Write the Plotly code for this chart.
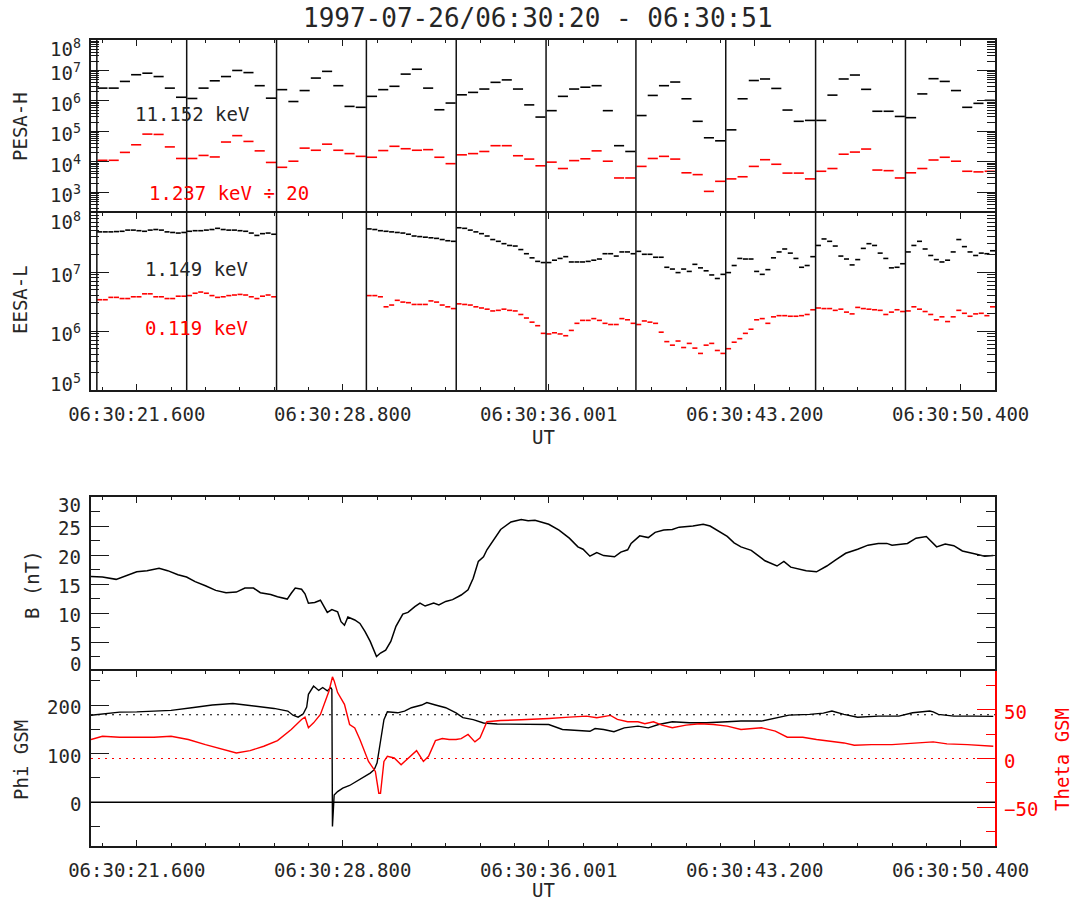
import numpy as np
import plotly.graph_objects as go

# ---------------- time base (seconds after 1997-07-26 06:30:00 UT) ----------------
T_START, T_END = 20.0, 51.6
spin_start = [20.204, 23.345, 26.486, 29.626, 32.767, 35.907, 39.048, 42.188, 45.329, 48.470]
spin_period = 3.1406

time_tickvals = [21.6, 28.8, 36.0, 43.2, 50.4]
time_ticktext = ["06:30:21.600", "06:30:28.800", "06:30:36.001", "06:30:43.200", "06:30:50.400"]

# ---------------- PESA-H, 8 energy sweeps per spin (log10 of flux) ----------------
pesa_11152_log = [
    6.42, 6.42, 6.64, 6.86, 6.91, 6.80, 6.42, 6.12,
    6.08, 6.42, 6.66, 6.80, 7.00, 6.93, 6.50, 6.09,
    6.37, 5.98, 6.34, 6.75, 6.97, 6.50, 5.82, 5.79,
    6.15, 6.37, 6.48, 6.88, 7.04, 6.42, 5.71, 5.93,
    6.20, 6.28, 6.39, 6.61, 6.69, 6.39, 5.87, 5.47,
    5.68, 6.15, 6.39, 6.45, 6.50, 5.68, 4.53, 4.34,
    5.52, 6.18, 6.50, 6.62, 6.07, 5.33, 4.79, 4.69,
    5.05, 6.07, 6.67, 6.72, 6.41, 5.70, 5.33, 5.36,
    5.36, 6.19, 6.72, 6.85, 6.38, 5.66, 5.66, 5.49,
    5.45, 6.23, 6.73, 6.64, 6.34, 5.79, 5.92, 6.02,
]
pesa_1237_div20_log = [
    4.05, 4.05, 4.31, 4.56, 4.91, 4.90, 4.49, 4.11,
    4.11, 4.21, 4.16, 4.65, 4.86, 4.67, 4.36, 3.98,
    3.82, 4.02, 4.45, 4.38, 4.58, 4.38, 4.27, 4.18,
    4.15, 4.37, 4.51, 4.43, 4.38, 4.40, 4.15, 3.94,
    4.23, 4.27, 4.34, 4.53, 4.53, 4.20, 4.09, 3.87,
    3.99, 3.78, 4.04, 4.10, 4.36, 4.02, 3.47, 3.47,
    3.85, 4.11, 4.18, 4.09, 3.64, 3.58, 3.03, 3.36,
    3.44, 3.51, 3.85, 4.07, 3.92, 3.63, 3.63, 3.44,
    3.69, 3.78, 4.25, 4.32, 4.42, 3.73, 3.71, 3.47,
    3.64, 3.78, 4.06, 4.15, 4.02, 3.69, 3.67, 3.69,
]

# ---------------- EESA-L, 16 sweeps per spin (log10 of flux, None = no data) ----------------
NO_DATA = [None] * 16
eesa_1149_log = (
    [7.68, 7.68, 7.68, 7.685, 7.69, 7.71, 7.71, 7.70, 7.69, 7.71, 7.72, 7.71, 7.68, 7.67, 7.66, 7.67]
    + [7.69, 7.70, 7.70, 7.71, 7.72, 7.74, 7.72, 7.71, 7.71, 7.70, 7.69, 7.66, 7.62, 7.65, 7.66, 7.64]
    + NO_DATA
    + [7.73, 7.72, 7.70, 7.69, 7.68, 7.67, 7.66, 7.64, 7.61, 7.60, 7.59, 7.58, 7.57, 7.55, 7.53, 7.52]
    + [7.75, 7.74, 7.71, 7.68, 7.65, 7.61, 7.55, 7.52, 7.48, 7.45, 7.44, 7.38, 7.31, 7.24, 7.18, 7.16]
    + [7.16, 7.20, 7.23, 7.26, 7.17, 7.17, 7.17, 7.18, 7.20, 7.22, 7.31, 7.31, 7.27, 7.34, 7.34, 7.31]
    + [7.35, 7.30, 7.30, 7.25, 7.25, 7.08, 7.05, 6.99, 7.05, 7.01, 7.13, 7.07, 7.02, 6.95, 6.89, 6.96]
    + [6.99, 7.11, 7.23, 7.22, 7.22, 7.01, 6.96, 7.04, 7.24, 7.34, 7.39, 7.32, 7.23, 7.08, 7.11, 7.26]
    + [7.45, 7.56, 7.52, 7.44, 7.27, 7.22, 7.12, 7.21, 7.40, 7.48, 7.45, 7.32, 7.23, 7.07, 7.08, 7.14]
    + [7.34, 7.45, 7.52, 7.39, 7.28, 7.21, 7.17, 7.20, 7.34, 7.55, 7.43, 7.34, 7.28, 7.32, 7.31, 7.36]
)
eesa_0119_log = (
    [6.53, 6.53, 6.57, 6.57, 6.55, 6.55, 6.58, 6.58, 6.63, 6.63, 6.58, 6.58, 6.55, 6.55, 6.59, 6.59]
    + [6.60, 6.64, 6.66, 6.64, 6.60, 6.57, 6.58, 6.60, 6.61, 6.62, 6.61, 6.58, 6.55, 6.59, 6.61, 6.58]
    + NO_DATA
    + [6.60, 6.60, 6.58, 6.41, 6.44, 6.52, 6.49, 6.48, 6.45, 6.45, 6.45, 6.51, 6.49, 6.44, 6.41, 6.38]
    + [6.46, 6.45, 6.44, 6.41, 6.39, 6.37, 6.34, 6.35, 6.37, 6.35, 6.34, 6.28, 6.22, 6.15, 6.09, 5.96]
    + [5.95, 5.97, 5.95, 5.92, 6.01, 6.13, 6.18, 6.18, 6.21, 6.18, 6.13, 6.11, 6.11, 6.21, 6.19, 6.13]
    + [6.11, 6.17, 6.15, 6.13, 5.98, 5.82, 5.76, 5.83, 5.72, 5.79, 5.71, 5.62, 5.76, 5.79, 5.67, 5.62]
    + [5.70, 5.81, 5.87, 5.96, 6.03, 6.19, 6.21, 6.13, 6.24, 6.26, 6.26, 6.25, 6.25, 6.26, 6.28, 6.36]
    + [6.39, 6.38, 6.38, 6.35, 6.37, 6.32, 6.29, 6.40, 6.38, 6.37, 6.36, 6.35, 6.28, 6.32, 6.36, 6.33]
    + [6.34, 6.41, 6.37, 6.33, 6.28, 6.19, 6.24, 6.16, 6.24, 6.35, 6.30, 6.25, 6.29, 6.30, 6.26, 6.41]
)

# ---------------- |B| (nT) ----------------
b_time = [20.0, 20.4, 20.88, 21.12, 21.36, 21.6, 21.96, 22.38, 22.68, 23.04, 23.34, 23.64, 24.0,
          24.36, 24.72, 25.08, 25.38, 25.68, 25.92, 26.28, 26.52, 26.86, 27.0, 27.14, 27.36, 27.48,
          27.6, 27.82, 28.02, 28.14, 28.26, 28.42, 28.62, 28.74, 28.86, 28.98, 29.22, 29.4, 29.58,
          29.76, 29.88, 29.98, 30.12, 30.3, 30.48, 30.66, 30.9, 31.08, 31.32, 31.5, 31.68, 31.98,
          32.16, 32.4, 32.64, 32.94, 33.18, 33.36, 33.54, 33.72, 33.84, 34.08, 34.32, 34.68, 35.04,
          35.28, 35.52, 36.0, 36.36, 36.72, 37.02, 37.2, 37.44, 37.68, 37.92, 38.3, 38.52, 38.76,
          38.88, 39.18, 39.48, 39.72, 40.02, 40.32, 40.56, 41.04, 41.4, 41.64, 42.0, 42.24, 42.48,
          42.72, 43.08, 43.56, 43.98, 44.22, 44.46, 45.0, 45.36, 45.72, 46.02, 46.38, 46.8, 47.16,
          47.52, 47.82, 48.0, 48.54, 48.84, 49.2, 49.56, 49.86, 50.16, 50.46, 50.88, 51.24, 51.54]
b_total = [16.3, 16.2, 15.8, 16.2, 16.6, 17.1, 17.3, 17.7, 17.3, 16.6, 16.2, 15.4, 14.7,
           13.9, 13.5, 13.6, 14.3, 14.3, 13.5, 13.2, 12.8, 12.4, 13.4, 14.3, 14.1, 13.3,
           11.7, 11.8, 12.2, 11.1, 10.1, 10.6, 10.2, 8.5, 7.9, 9.3, 8.8, 8.2, 6.8,
           5.1, 3.6, 2.5, 3.1, 3.6, 5.1, 7.7, 9.8, 10.1, 11.1, 11.7, 11.2, 11.7,
           11.4, 12.0, 12.3, 13.1, 14.0, 16.0, 18.9, 19.7, 20.9, 22.7, 24.4, 25.7, 26.1,
           25.9, 26.0, 25.3, 24.3, 22.9, 21.4, 21.0, 19.8, 20.4, 19.9, 19.7, 20.5, 20.9,
           22.0, 23.3, 23.0, 23.9, 24.3, 24.4, 24.8, 25.0, 25.3, 25.0, 23.9, 23.2, 22.1,
           21.4, 20.8, 19.0, 18.1, 18.9, 17.9, 17.3, 17.1, 18.1, 19.1, 20.3, 21.0, 21.7,
           22.0, 22.0, 21.7, 22.0, 22.9, 23.2, 21.4, 21.9, 21.6, 20.7, 20.2, 19.8, 19.9]

# ---------------- field direction (deg, GSM) ----------------
phi_time = [20.0, 20.4, 21.0, 21.6, 22.2, 22.8, 23.52, 24.24, 24.96, 25.44, 25.92, 26.4, 26.88,
            27.06, 27.24, 27.42, 27.54, 27.6, 27.78, 27.96, 28.1, 28.26, 28.38, 28.42, 28.44,
            28.47, 28.5, 28.62, 28.8, 29.04, 29.28, 29.52, 29.76, 29.9, 30.0, 30.12, 30.24, 30.36,
            30.72, 30.96, 31.2, 31.56, 31.74, 32.04, 32.4, 32.76, 33.0, 33.36, 33.72, 34.2, 34.8,
            35.52, 36.0, 36.48, 36.96, 37.44, 37.62, 37.92, 38.28, 38.64, 39.12, 39.48, 39.84,
            40.32, 40.92, 41.52, 42.24, 42.72, 43.44, 43.92, 44.4, 45.12, 45.6, 45.9, 46.32, 46.8,
            47.52, 48.24, 48.72, 49.32, 49.44, 49.62, 50.16, 50.88, 51.54]
phi_gsm = [179, 182, 185.5, 186, 187.6, 189, 194.5, 200, 203, 200, 196, 193, 187.6,
           179, 175, 182, 196, 222, 239, 230, 236, 229, 236, 232, -50,
           2, 15, 22, 29, 34.5, 43, 53, 60, 67, 81, 125.5, 170, 186,
           184, 187.6, 194.5, 200, 205, 200, 194.5, 184, 174, 170, 163, 161, 161,
           161, 160, 149.7, 147.6, 146, 151.7, 149.7, 145, 153, 156.6, 153, 160,
           165.5, 163.4, 163.4, 165.5, 167, 167, 172.4, 179.3, 180.7, 183.4, 187.6, 180.7, 175,
           177.2, 177.2, 184, 187.6, 186, 180.7, 177.2, 177.2, 176.6]

theta_time = [20.0, 20.4, 21.0, 21.6, 22.2, 22.8, 23.4, 24.0, 24.6, 25.08, 25.56, 26.04, 26.52,
              27.0, 27.36, 27.48, 27.6, 27.78, 28.02, 28.2, 28.32, 28.44, 28.5, 28.62, 28.86,
              29.04, 29.22, 29.4, 29.7, 29.94, 30.06, 30.12, 30.24, 30.36, 30.6, 30.84, 31.08,
              31.38, 31.62, 31.8, 32.04, 32.28, 32.52, 32.76, 32.94, 33.18, 33.42, 33.6, 33.84,
              34.32, 35.04, 35.52, 36.0, 36.72, 37.32, 37.68, 38.16, 38.4, 38.76, 39.12, 39.36,
              39.66, 39.96, 40.32, 40.8, 41.28, 41.76, 42.24, 42.72, 43.44, 43.92, 44.34, 44.88,
              45.36, 45.84, 46.32, 46.68, 47.28, 48.0, 48.72, 49.44, 49.92, 50.64, 51.54]
theta_gsm = [19.5, 22.9, 21.9, 21.9, 21.9, 22.9, 19.5, 14.3, 9.1, 5.7, 8.1, 12.6, 18.4,
             29.8, 40.2, 42.6, 31.6, 36.7, 45.3, 59.1, 69.5, 84, 79.8, 67.8, 55.7,
             35, 31.5, 19.5, -3, -13.3, -35.7, -35.7, -3, 2.2, 0.5, -6.4, -0.2,
             8.1, -3, 2.2, 18.4, 20.5, 19.5, 19.5, 20.5, 24.7, 17.1, 21.2, 37.8,
             39.1, 39.8, 40.2, 41.2, 42.6, 43.6, 41.9, 44.3, 40.2, 37.8, 37.8, 35.7,
             37.8, 34.3, 31.6, 34.3, 35.7, 35, 33.3, 29.8, 31.6, 28.1, 21.9, 21.9,
             19.5, 17.8, 16, 13.6, 14.3, 14.3, 16, 17.1, 15, 14.3, 12.6]

# ---------------- styling ----------------
FONT = "DejaVu Sans Mono"
TXT = "#262626"
AX = "#1a1a1a"
RED = "#ff0000"
W, H = 1076, 907
ML, MR, MT, MB = 91, 81, 40, 61
PW, PH = W - ML - MR, H - MT - MB


def py(y_px):
    """pixel row -> paper y"""
    return (H - MB - y_px) / PH


def px(x_px):
    """pixel column -> paper x"""
    return (x_px - ML) / PW


dom1 = [py(213), 1.0]
dom2 = [py(390), py(213)]
dom3 = [py(671), py(497)]
dom4 = [0.0, py(671)]


def sweep_segments(n_per_spin, log_vals, fill=0.9):
    """Horizontal dashes, one per energy sweep, spanning its time bin."""
    width = spin_period / n_per_spin
    starts = [s + k * width for s in spin_start for k in range(n_per_spin)]
    xs, ys = [], []
    for t0, lv in zip(starts, log_vals):
        if lv is None:
            continue
        v = 10.0 ** lv
        pad = (1 - fill) / 2 * width
        xs += [t0 + pad, t0 + width - pad, None]
        ys += [v, v, None]
    return xs, ys


fig = go.Figure()

for vals, col, n, xa, ya in [
    (pesa_11152_log, "black", 8, "x", "y"),
    (pesa_1237_div20_log, RED, 8, "x", "y"),
    (eesa_1149_log, "black", 16, "x2", "y2"),
    (eesa_0119_log, RED, 16, "x2", "y2"),
]:
    sx, sy = sweep_segments(n, vals)
    fig.add_trace(go.Scatter(x=sx, y=sy, mode="lines", line=dict(color=col, width=1.6),
                             xaxis=xa, yaxis=ya, showlegend=False, hoverinfo="skip"))

fig.add_trace(go.Scatter(x=b_time, y=b_total, mode="lines", line=dict(color="black", width=1.5),
                         xaxis="x3", yaxis="y3", showlegend=False, hoverinfo="skip"))
fig.add_trace(go.Scatter(x=phi_time, y=phi_gsm, mode="lines", line=dict(color="black", width=1.4),
                         xaxis="x4", yaxis="y4", showlegend=False, hoverinfo="skip"))
fig.add_trace(go.Scatter(x=theta_time, y=theta_gsm, mode="lines", line=dict(color=RED, width=1.4),
                         xaxis="x4", yaxis="y5", showlegend=False, hoverinfo="skip"))


# ---------------- axes ----------------
def time_axis(anchor, labels, side="bottom", mirror="ticks"):
    return dict(
        domain=[0, 1], anchor=anchor, range=[T_START, T_END], side=side,
        showline=True, linecolor=AX, linewidth=1.5, mirror=mirror,
        ticks="inside", ticklen=6, tickwidth=1.2, tickcolor=AX,
        tickmode="array", tickvals=time_tickvals, ticktext=time_ticktext,
        minor=dict(ticks="inside", ticklen=3, tickwidth=1.2, tickcolor=AX, tick0=21.6, dtick=1.2),
        showgrid=False, zeroline=False, showticklabels=labels,
        tickfont=dict(family=FONT, size=19, color=TXT), ticklabelstandoff=6,
    )


log_minor_vals = [m * 10.0 ** e for e in range(2, 8) for m in range(2, 10)]


def log_axis(domain, anchor, rng, decades):
    return dict(
        domain=domain, anchor=anchor, type="log", range=rng,
        showline=True, linecolor=AX, linewidth=1.5, mirror="ticks",
        ticks="inside", ticklen=18, tickwidth=1.2, tickcolor=AX,
        tickmode="array", tickvals=[10.0 ** d for d in decades],
        minor=dict(ticks="inside", ticklen=8, tickwidth=1.0, tickcolor=AX,
                   tickmode="array", tickvals=log_minor_vals),
        showgrid=False, zeroline=False, showticklabels=False,
    )


pesa_decades = [3, 4, 5, 6, 7, 8]
eesa_decades = [5, 6, 7, 8]
b_ticks = [0, 5, 10, 15, 20, 25, 30]
b_minor = [2.5, 7.5, 12.5, 17.5, 22.5, 27.5]
phi_ticks = [0, 100, 200]
phi_minor = [-50, 50, 150, 250]
theta_ticks = [-50, 0, 50]
theta_minor = [-75, -25, 25, 75]

fig.update_layout(
    width=W, height=H, autosize=False,
    margin=dict(l=ML, r=MR, t=MT, b=MB),
    paper_bgcolor="white", plot_bgcolor="white",
    font=dict(family=FONT, size=19, color=TXT),
    # the upper panel of each pair draws only its top edge; the shared edge comes from the lower one
    xaxis=time_axis("y", False, side="top", mirror=False),
    xaxis2=time_axis("y2", True),
    xaxis3=time_axis("y3", False, side="top", mirror=False),
    xaxis4=time_axis("y4", True),
    yaxis=log_axis(dom1, "x", [2.32, 8], pesa_decades),
    yaxis2=log_axis(dom2, "x2", [5, 8], eesa_decades),
    yaxis3=dict(domain=dom3, anchor="x3", range=[0, 30], showline=True, linecolor=AX, linewidth=1.5,
                mirror="ticks", ticks="inside", ticklen=18, tickwidth=1.2, tickcolor=AX,
                tickmode="array", tickvals=b_ticks,
                minor=dict(ticks="inside", ticklen=9, tickwidth=1.2, tickcolor=AX,
                           tickmode="array", tickvals=b_minor),
                showgrid=False, zeroline=False, showticklabels=False),
    yaxis4=dict(domain=dom4, anchor="x4", range=[-90, 270], showline=True, linecolor=AX, linewidth=1.5,
                mirror=False, ticks="inside", ticklen=18, tickwidth=1.2, tickcolor=AX,
                tickmode="array", tickvals=phi_ticks,
                minor=dict(ticks="inside", ticklen=9, tickwidth=1.2, tickcolor=AX,
                           tickmode="array", tickvals=phi_minor),
                showgrid=False, zeroline=False, showticklabels=False),
    yaxis5=dict(overlaying="y4", anchor="x4", side="right", range=[-90, 90], showline=True,
                linecolor=RED, linewidth=1.5, ticks="inside", ticklen=18, tickwidth=1.2,
                tickcolor=RED, tickmode="array", tickvals=theta_ticks,
                minor=dict(ticks="inside", ticklen=9, tickwidth=1.2, tickcolor=RED,
                           tickmode="array", tickvals=theta_minor),
                showgrid=False, zeroline=False, showticklabels=False),
)

# ---------------- spin boundaries and reference levels ----------------
shapes = []
for t in spin_start:
    shapes.append(dict(type="line", xref="x", yref="paper", x0=t, x1=t, y0=dom2[0], y1=dom1[1],
                       line=dict(color="#111111", width=1.5)))
shapes.append(dict(type="line", xref="x4", yref="y4", x0=T_START, x1=T_END, y0=0, y1=0,
                   line=dict(color="black", width=1.3)))
shapes.append(dict(type="line", xref="x4", yref="y4", x0=T_START, x1=T_END, y0=180, y1=180,
                   line=dict(color="black", width=1.2, dash="2px,5px")))
shapes.append(dict(type="line", xref="x4", yref="y5", x0=T_START, x1=T_END, y0=0, y1=0,
                   line=dict(color=RED, width=1.2, dash="2px,5px")))
fig.update_layout(shapes=shapes)

# ---------------- text ----------------
ann = []


def text(x_px, y_px, s, color=TXT, size=19, angle=0, xanchor="center"):
    ann.append(dict(xref="paper", yref="paper", x=px(x_px), y=py(y_px), text=s, showarrow=False,
                    xanchor=xanchor, yanchor="middle", textangle=angle,
                    font=dict(family=FONT, size=size, color=color)))


def tick_labels(yref, values, labels, lo, hi, color=TXT, side="left"):
    for v, s in zip(values, labels):
        shift = -2
        if v == hi:
            shift = -8
        elif v == lo:
            shift = 7
        ann.append(dict(xref="paper", yref=yref, x=0 if side == "left" else 1, y=v, text=s,
                        showarrow=False, xanchor="right" if side == "left" else "left",
                        yanchor="middle", xshift=-8 if side == "left" else 7, yshift=shift,
                        font=dict(family=FONT, size=19, color=color)))


tick_labels("y", pesa_decades, [f"10<sup>{d}</sup>" for d in pesa_decades], 2.32, 8)
tick_labels("y2", eesa_decades, [f"10<sup>{d}</sup>" for d in eesa_decades], 5, 8)
tick_labels("y3", b_ticks, [str(v) for v in b_ticks], 0, 30)
tick_labels("y4", phi_ticks, [str(v) for v in phi_ticks], -90, 270)
tick_labels("y5", theta_ticks, ["\u221250", "0", "50"], -90, 90, color=RED, side="right")

text(538, 18, "1997-07-26/06:30:20 - 06:30:51", size=26)
text(192, 114, "11.152 keV")
text(229, 193, "1.237 keV \u00f7 20", color=RED)
text(196, 269, "1.149 keV")
text(196, 328, "0.119 keV", color=RED)
text(20, 127, "PESA-H", angle=-90)
text(20, 300, "EESA-L", angle=-90)
text(32, 584, "B (nT)", angle=-90)
text(21, 760, "Phi GSM", angle=-90)
text(1062, 760, "Theta GSM", color=RED, angle=-90)
text(543, 437, "UT")
text(543, 890, "UT")

fig.update_layout(annotations=ann)

fig.write_html("out.html")
